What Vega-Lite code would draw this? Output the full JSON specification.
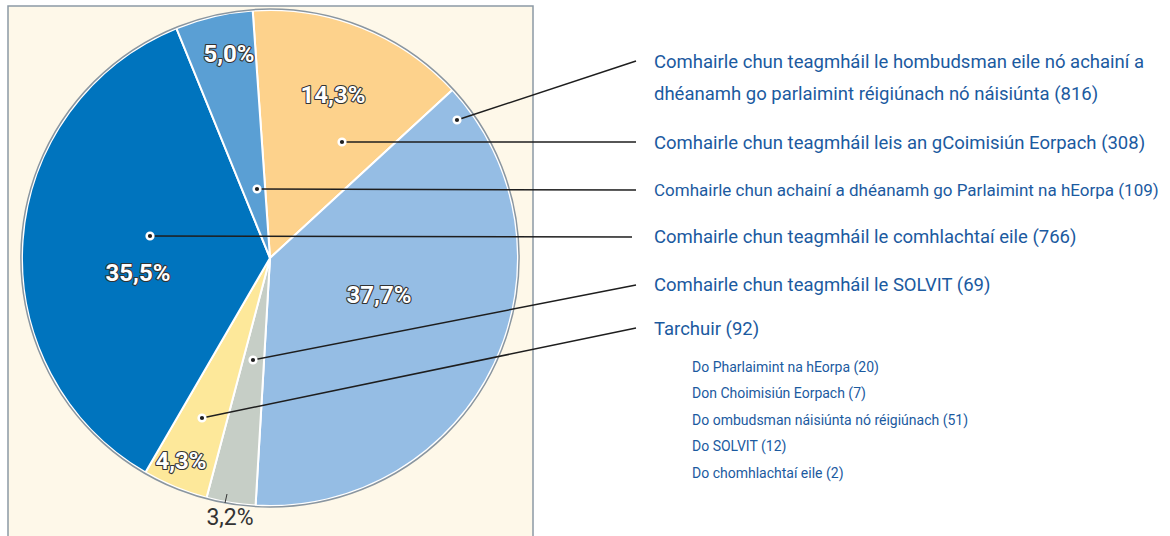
{
  "$schema": "https://vega.github.io/schema/vega-lite/v6.json",
  "width": 1170,
  "height": 536,
  "padding": 0,
  "autosize": {"type": "none"},
  "background": "white",
  "config": {"view": {"stroke": null}},
  "datasets": {
    "panel": [{"x": 8, "x2": 533, "y": 6, "y2": 540}],
    "slices": [
      {"category": "Comhairle chun teagmháil leis an gCoimisiún Eorpach", "count": 308, "order": 1},
      {"category": "Comhairle chun teagmháil le hombudsman eile nó achainí a dhéanamh go parlaimint réigiúnach nó náisiúnta", "count": 816, "order": 2},
      {"category": "Comhairle chun teagmháil le SOLVIT", "count": 69, "order": 3},
      {"category": "Tarchuir", "count": 92, "order": 4},
      {"category": "Comhairle chun teagmháil le comhlachtaí eile", "count": 766, "order": 5},
      {"category": "Comhairle chun achainí a dhéanamh go Parlaimint na hEorpa", "count": 109, "order": 6}
    ],
    "pct": [
      {"label": "14,3%", "x": 333, "y": 96, "kind": "in"},
      {"label": "37,7%", "x": 379, "y": 296, "kind": "in"},
      {"label": "4,3%", "x": 181, "y": 462, "kind": "in"},
      {"label": "35,5%", "x": 138, "y": 274, "kind": "in"},
      {"label": "5,0%", "x": 229, "y": 55, "kind": "in"},
      {"label": "3,2%", "x": 230, "y": 518, "kind": "out"}
    ],
    "tick": [{"x": 227, "y": 494, "x2": 225, "y2": 503}],
    "callouts": [
      {"item": 1, "ax": 457, "ay": 120, "bx": 636, "by": 61},
      {"item": 2, "ax": 342, "ay": 142, "bx": 636, "by": 142},
      {"item": 3, "ax": 257, "ay": 189, "bx": 636, "by": 190},
      {"item": 4, "ax": 150, "ay": 236, "bx": 632, "by": 237},
      {"item": 5, "ax": 253, "ay": 360, "bx": 636, "by": 285},
      {"item": 6, "ax": 202, "ay": 418, "bx": 636, "by": 328}
    ],
    "legend": [
      {"text": "Comhairle chun teagmháil le hombudsman eile nó achainí a", "x": 654, "y": 68, "level": "main"},
      {"text": "dhéanamh go parlaimint réigiúnach nó náisiúnta (816)", "x": 654, "y": 100, "level": "main"},
      {"text": "Comhairle chun teagmháil leis an gCoimisiún Eorpach (308)", "x": 654, "y": 149, "level": "main"},
      {"text": "Comhairle chun achainí a dhéanamh go Parlaimint na hEorpa (109)", "x": 654, "y": 196, "level": "long"},
      {"text": "Comhairle chun teagmháil le comhlachtaí eile (766)", "x": 654, "y": 243, "level": "main"},
      {"text": "Comhairle chun teagmháil le SOLVIT (69)", "x": 654, "y": 291, "level": "main"},
      {"text": "Tarchuir (92)", "x": 654, "y": 335, "level": "main"},
      {"text": "Do Pharlaimint na hEorpa (20)", "x": 692, "y": 372, "level": "sub"},
      {"text": "Don Choimisiún Eorpach (7)", "x": 692, "y": 398, "level": "sub"},
      {"text": "Do ombudsman náisiúnta nó réigiúnach (51)", "x": 692, "y": 425, "level": "sub"},
      {"text": "Do SOLVIT (12)", "x": 692, "y": 451, "level": "sub"},
      {"text": "Do chomhlachtaí eile (2)", "x": 692, "y": 478, "level": "sub"}
    ]
  },
  "layer": [
    {
      "data": {"name": "panel"},
      "mark": {"type": "rect", "fill": "#FEF8E9", "stroke": "#8C99A5", "strokeWidth": 1.5},
      "encoding": {
        "x": {"field": "x", "type": "quantitative", "scale": {"domain": [0, 1170], "nice": false, "zero": false}, "axis": null},
        "x2": {"field": "x2"},
        "y": {"field": "y", "type": "quantitative", "scale": {"domain": [0, 536], "nice": false, "zero": false, "reverse": true}, "axis": null},
        "y2": {"field": "y2"}
      }
    },
    {
      "data": {"name": "slices"},
      "mark": {"type": "arc", "radius": 248, "stroke": "white", "strokeWidth": 2},
      "encoding": {
        "x": {"datum": 270, "type": "quantitative", "scale": {"domain": [0, 1170], "nice": false, "zero": false}, "axis": null},
        "y": {"datum": 258, "type": "quantitative", "scale": {"domain": [0, 536], "nice": false, "zero": false, "reverse": true}, "axis": null},
        "theta": {"field": "count", "type": "quantitative", "stack": true, "scale": {"range": [-0.0698, 6.2134]}},
        "order": {"field": "order", "type": "quantitative", "sort": "ascending"},
        "color": {
          "field": "category", "type": "nominal", "legend": null,
          "scale": {
            "domain": [
              "Comhairle chun teagmháil leis an gCoimisiún Eorpach",
              "Comhairle chun teagmháil le hombudsman eile nó achainí a dhéanamh go parlaimint réigiúnach nó náisiúnta",
              "Comhairle chun teagmháil le SOLVIT",
              "Tarchuir",
              "Comhairle chun teagmháil le comhlachtaí eile",
              "Comhairle chun achainí a dhéanamh go Parlaimint na hEorpa"
            ],
            "range": ["#FDD28C", "#95BDE4", "#C6CEC6", "#FDE89A", "#0074BE", "#5A9FD4"]
          }
        }
      }
    },
    {
      "data": {"values": [{"c": 1}]},
      "mark": {"type": "arc", "radius": 249, "theta": 0, "theta2": 6.2832, "fill": null, "filled": false, "stroke": "#8A96A0", "strokeWidth": 1.5},
      "encoding": {
        "x": {"datum": 270, "type": "quantitative", "scale": {"domain": [0, 1170], "nice": false, "zero": false}, "axis": null},
        "y": {"datum": 258, "type": "quantitative", "scale": {"domain": [0, 536], "nice": false, "zero": false, "reverse": true}, "axis": null}
      }
    },
    {
      "data": {"name": "pct"},
      "transform": [{"filter": "datum.kind === 'in'"}],
      "mark": {"type": "text", "font": "Roboto", "fontWeight": "bold", "fontSize": 24, "align": "center", "baseline": "middle", "fill": "#333333", "stroke": "#333333", "strokeWidth": 2.2, "strokeJoin": "round"},
      "encoding": {
        "x": {"field": "x", "type": "quantitative", "scale": {"domain": [0, 1170], "nice": false, "zero": false}, "axis": null},
        "y": {"field": "y", "type": "quantitative", "scale": {"domain": [0, 536], "nice": false, "zero": false, "reverse": true}, "axis": null},
        "text": {"field": "label"}
      }
    },
    {
      "data": {"name": "pct"},
      "transform": [{"filter": "datum.kind === 'in'"}],
      "mark": {"type": "text", "font": "Roboto", "fontWeight": "bold", "fontSize": 24, "align": "center", "baseline": "middle", "fill": "#ffffff"},
      "encoding": {
        "x": {"field": "x", "type": "quantitative", "scale": {"domain": [0, 1170], "nice": false, "zero": false}, "axis": null},
        "y": {"field": "y", "type": "quantitative", "scale": {"domain": [0, 536], "nice": false, "zero": false, "reverse": true}, "axis": null},
        "text": {"field": "label"}
      }
    },
    {
      "data": {"name": "pct"},
      "transform": [{"filter": "datum.kind === 'out'"}],
      "mark": {"type": "text", "font": "Roboto", "fontSize": 23, "align": "center", "baseline": "middle", "fill": "#333333"},
      "encoding": {
        "x": {"field": "x", "type": "quantitative", "scale": {"domain": [0, 1170], "nice": false, "zero": false}, "axis": null},
        "y": {"field": "y", "type": "quantitative", "scale": {"domain": [0, 536], "nice": false, "zero": false, "reverse": true}, "axis": null},
        "text": {"field": "label"}
      }
    },
    {
      "data": {"name": "tick"},
      "mark": {"type": "rule", "stroke": "#333333", "strokeWidth": 1},
      "encoding": {
        "x": {"field": "x", "type": "quantitative", "scale": {"domain": [0, 1170], "nice": false, "zero": false}, "axis": null},
        "y": {"field": "y", "type": "quantitative", "scale": {"domain": [0, 536], "nice": false, "zero": false, "reverse": true}, "axis": null},
        "x2": {"field": "x2"},
        "y2": {"field": "y2"}
      }
    },
    {
      "data": {"name": "callouts"},
      "mark": {"type": "rule", "stroke": "#1e1e1e", "strokeWidth": 1.5},
      "encoding": {
        "x": {"field": "ax", "type": "quantitative", "scale": {"domain": [0, 1170], "nice": false, "zero": false}, "axis": null},
        "y": {"field": "ay", "type": "quantitative", "scale": {"domain": [0, 536], "nice": false, "zero": false, "reverse": true}, "axis": null},
        "x2": {"field": "bx"},
        "y2": {"field": "by"}
      }
    },
    {
      "data": {"name": "callouts"},
      "mark": {"type": "point", "shape": "circle", "filled": true, "fill": "#1e1e1e", "stroke": "white", "strokeWidth": 2.5, "size": 45, "opacity": 1},
      "encoding": {
        "x": {"field": "ax", "type": "quantitative", "scale": {"domain": [0, 1170], "nice": false, "zero": false}, "axis": null},
        "y": {"field": "ay", "type": "quantitative", "scale": {"domain": [0, 536], "nice": false, "zero": false, "reverse": true}, "axis": null}
      }
    },
    {
      "data": {"name": "legend"},
      "transform": [{"filter": "datum.level === 'main'"}],
      "mark": {"type": "text", "font": "Roboto", "fontSize": 18.5, "align": "left", "baseline": "alphabetic", "fill": "#1B5AA0"},
      "encoding": {
        "x": {"field": "x", "type": "quantitative", "scale": {"domain": [0, 1170], "nice": false, "zero": false}, "axis": null},
        "y": {"field": "y", "type": "quantitative", "scale": {"domain": [0, 536], "nice": false, "zero": false, "reverse": true}, "axis": null},
        "text": {"field": "text"}
      }
    },
    {
      "data": {"name": "legend"},
      "transform": [{"filter": "datum.level === 'long'"}],
      "mark": {"type": "text", "font": "Roboto", "fontSize": 17, "align": "left", "baseline": "alphabetic", "fill": "#1B5AA0"},
      "encoding": {
        "x": {"field": "x", "type": "quantitative", "scale": {"domain": [0, 1170], "nice": false, "zero": false}, "axis": null},
        "y": {"field": "y", "type": "quantitative", "scale": {"domain": [0, 536], "nice": false, "zero": false, "reverse": true}, "axis": null},
        "text": {"field": "text"}
      }
    },
    {
      "data": {"name": "legend"},
      "transform": [{"filter": "datum.level === 'sub'"}],
      "mark": {"type": "text", "font": "Roboto", "fontSize": 14, "align": "left", "baseline": "alphabetic", "fill": "#1B5AA0"},
      "encoding": {
        "x": {"field": "x", "type": "quantitative", "scale": {"domain": [0, 1170], "nice": false, "zero": false}, "axis": null},
        "y": {"field": "y", "type": "quantitative", "scale": {"domain": [0, 536], "nice": false, "zero": false, "reverse": true}, "axis": null},
        "text": {"field": "text"}
      }
    }
  ]
}
